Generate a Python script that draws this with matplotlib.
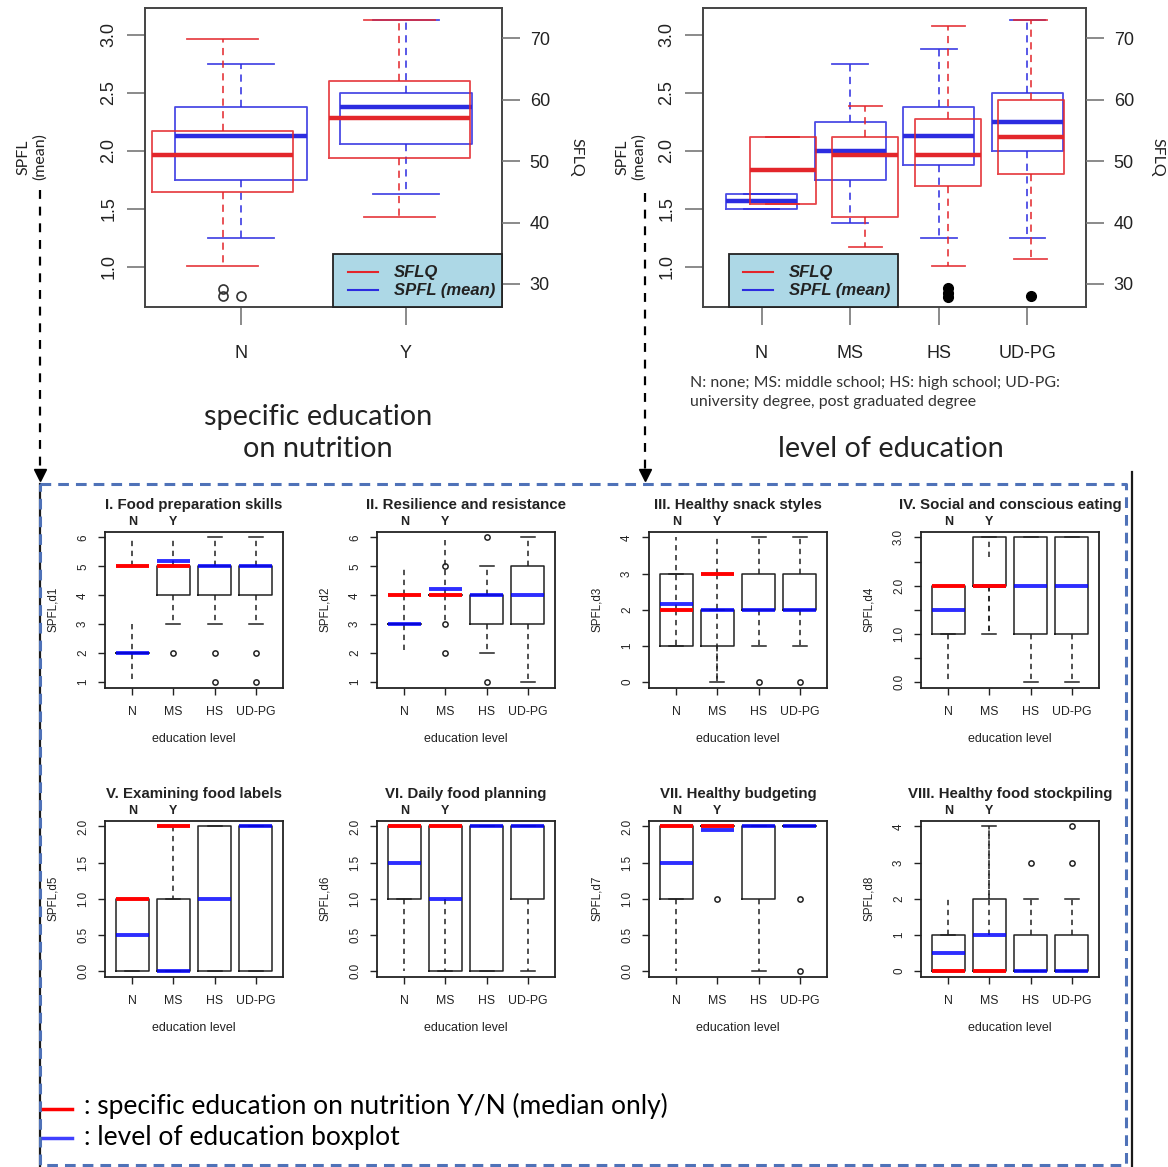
import matplotlib.pyplot as plt

W, H = 1168, 1167
RED = '#e3262b'
BLUE = '#2c2ce0'
SRED = '#ff0000'
SBLUE = '#0000ff'
INK = '#222222'
R_FONT = 'Liberation Sans'
DOC_FONT = 'Lato'

# ---- top panels (SPFL mean = blue, left axis; SFLQ = red, right axis)
# box stats: (whisker low, q1, median, q3, whisker high)
spec_groups = ['N', 'Y']
spec_spfl = [(1.25, 1.75, 2.125, 2.375, 2.75), (1.625, 2.0625, 2.375, 2.5, 3.125)]
spec_spfl_out = [[0.75], []]
spec_sflq = [(33.0, 44.9, 50.95, 54.9, 69.9), (40.9, 50.5, 56.95, 63.0, 72.9)]
spec_sflq_out = [[29.2, 28.1], []]

edu_groups = ['N', 'MS', 'HS', 'UD-PG']
edu_spfl = [(1.5, 1.5, 1.5625, 1.625, 1.625), (1.375, 1.75, 2.0, 2.25, 2.75),
            (1.25, 1.875, 2.125, 2.375, 2.875), (1.25, 2.0, 2.25, 2.5, 3.125)]
edu_spfl_out = [[], [], [], []]
edu_sflq = [(43.0, 43.0, 48.5, 54.0, 54.0), (36.0, 40.9, 50.95, 54.0, 58.9),
            (33.0, 45.9, 50.95, 56.9, 72.0), (34.0, 47.9, 54.0, 59.9, 72.9)]
edu_sflq_out = [[], [], [29.3, 28.5, 27.9], [28.0]]

spfl_ticks = [1.0, 1.5, 2.0, 2.5, 3.0]
sflq_ticks = [30, 40, 50, 60, 70]

# ---- eight SPFL dimensions by education level
dim_titles = ['I. Food preparation skills', 'II. Resilience and resistance',
              'III. Healthy snack styles', 'IV. Social and conscious eating',
              'V. Examining food labels', 'VI. Daily food planning',
              'VII. Healthy budgeting', 'VIII. Healthy food stockpiling']
dim_ylabels = ['SPFL,d%d' % (i + 1) for i in range(8)]
dim_yticks = [[1, 2, 3, 4, 5, 6], [1, 2, 3, 4, 5, 6], [0, 1, 2, 3, 4],
              [0, 0.5, 1, 1.5, 2, 2.5, 3], [0, 0.5, 1, 1.5, 2], [0, 0.5, 1, 1.5, 2],
              [0, 0.5, 1, 1.5, 2], [0, 1, 2, 3, 4]]
dim_yticklabels = [['1', '2', '3', '4', '5', '6'], ['1', '2', '3', '4', '5', '6'],
                   ['0', '1', '2', '3', '4'],
                   ['0.0', '', '1.0', '', '2.0', '', '3.0'],
                   ['0.0', '0.5', '1.0', '1.5', '2.0'], ['0.0', '0.5', '1.0', '1.5', '2.0'],
                   ['0.0', '0.5', '1.0', '1.5', '2.0'], ['0', '1', '2', '3', '4']]
# level-of-education boxes: (whisker low, q1, q3, whisker high)
dim_box = [
    [(2, 2, 2, 2), (3, 4, 5, 5), (3, 4, 5, 6), (3, 4, 5, 6)],
    [(3, 3, 3, 3), (4, 4, 4, 4), (2, 3, 4, 5), (1, 3, 5, 6)],
    [(1, 1, 3, 3), (0, 1, 2, 2), (1, 2, 3, 4), (1, 2, 3, 4)],
    [(1, 1, 2, 2), (1, 2, 3, 3), (0, 1, 3, 3), (0, 1, 3, 3)],
    [(0, 0, 1, 1), (0, 0, 1, 1), (0, 0, 2, 2), (0, 0, 2, 2)],
    [(1, 1, 2, 2), (0, 0, 2, 2), (0, 0, 2, 2), (0, 1, 2, 2)],
    [(1, 1, 2, 2), (2, 2, 2, 2), (0, 1, 2, 2), (2, 2, 2, 2)],
    [(0, 0, 1, 1), (0, 0, 2, 4), (0, 0, 1, 2), (0, 0, 1, 2)],
]
dim_blue_med = [
    [2, 5.2, 5, 5], [3, 4.2, 4, 4], [2.15, 2, 2, 2], [1.5, 2, 2, 2],
    [0.5, 0, 1, 2], [1.5, 1, 2, 2], [1.5, 1.95, 2, 2], [0.5, 1, 0, 0],
]
dim_out = [
    [[], [2], [2, 1], [2, 1]],
    [[], [5, 3, 2], [6, 1], []],
    [[], [], [0], [0]],
    [[], [], [], []],
    [[], [], [], []],
    [[], [], [], []],
    [[], [1], [], [1, 0]],
    [[], [], [3], [3, 4]],
]
# specific education N / Y overlay: (whisker low, q1, median, q3, whisker high)
dim_red = [
    [(1, 3, 5, 5, 6), (4, 4, 5, 5, 6)],
    [(2, 4, 4, 4, 5), (3, 4, 4, 4, 6)],
    [(1, 2, 2, 2, 4), (0, 3, 3, 3, 4)],
    [(0, 1, 2, 2, 2), (1, 2, 2, 2.6, 3)],
    [(1, 1, 1, 1, 1), (1, 2, 2, 2, 2)],
    [(0, 1, 2, 2, 2), (0, 1, 2, 2, 2)],
    [(0, 1, 2, 2, 2), (2, 2, 2, 2, 2)],
    [(0, 0, 0, 1, 2), (0, 0, 0, 1, 4)],
]


def px_axes(fig, left, top, right, bottom):
    return fig.add_axes([left / W, 1 - bottom / H, (right - left) / W, (bottom - top) / H])


def draw_top_boxes(ax, stats, outs, color, filled):
    for i, (lo, q1, med, q3, hi) in enumerate(stats):
        x = i + 1
        ax.plot([x - 0.4, x + 0.4, x + 0.4, x - 0.4, x - 0.4], [q1, q1, q3, q3, q1],
                color=color, lw=1.3, alpha=0.85)
        ax.plot([x, x], [q1, lo], color=color, lw=1.3, ls=(0, (4, 3)), alpha=0.85)
        ax.plot([x, x], [q3, hi], color=color, lw=1.3, ls=(0, (4, 3)), alpha=0.85)
        for v in (lo, hi):
            ax.plot([x - 0.2, x + 0.2], [v, v], color=color, lw=1.3, alpha=0.85)
        ax.plot([x - 0.4, x + 0.4], [med, med], color=color, lw=3.2, solid_capstyle='butt')
        if outs[i]:
            if filled:
                ax.plot([x] * len(outs[i]), outs[i], 'o', color='black', ms=7)
            else:
                ax.plot([x] * len(outs[i]), outs[i], 'o', mfc='none', mec='#333333',
                        ms=6.5, mew=1.2)


def top_panel(fig, rect, groups, spfl, spfl_out, sflq, sflq_out, red_xlim, legend_x, filled):
    ax = px_axes(fig, *rect)
    n = len(groups)
    draw_top_boxes(ax, spfl, spfl_out, BLUE, filled)
    ax.set_xlim(0.5 - 0.04 * n, n + 0.5 + 0.04 * n)
    ax.set_ylim(0.649, 3.23)
    ax.set_xticks(range(1, n + 1))
    ax.set_xticklabels(groups, fontsize=13, family=R_FONT, color=INK)
    ax.set_yticks(spfl_ticks)
    ax.set_yticklabels(['%.1f' % t for t in spfl_ticks], rotation=90, va='center',
                       fontsize=13, family=R_FONT, color=INK)
    ax.tick_params(axis='y', length=13, pad=7, color='#777777', width=1.2)
    ax.tick_params(axis='x', length=13, pad=14, color='#777777', width=1.2)
    for s in ax.spines.values():
        s.set_color('#444444')
        s.set_linewidth(1.4)

    axr = px_axes(fig, *rect)
    axr.patch.set_visible(False)
    for s in axr.spines.values():
        s.set_visible(False)
    draw_top_boxes(axr, sflq, sflq_out, RED, filled)
    axr.set_xlim(*red_xlim)
    axr.set_ylim(26.2, 74.88)
    axr.set_xticks([])
    axr.yaxis.tick_right()
    axr.set_yticks(sflq_ticks)
    axr.set_yticklabels([str(t) for t in sflq_ticks], fontsize=13, family=R_FONT, color=INK)
    axr.tick_params(axis='y', length=13, pad=7, color='#777777', width=1.2)

    # legend box
    x0, x1, xl0, xl1, xt = legend_x
    axr.add_patch(plt.Rectangle((x0, 0), x1 - x0, 0.177, transform=axr.transAxes,
                                facecolor='#add8e6', edgecolor='#222222', lw=1.3,
                                zorder=5, clip_on=False))
    for yy, col, lab in [(0.118, RED, 'SFLQ'), (0.057, BLUE, 'SPFL (mean)')]:
        axr.plot([xl0, xl1], [yy, yy], color=col, lw=1.5, transform=axr.transAxes,
                 zorder=6, clip_on=False)
        axr.text(xt, yy, lab, transform=axr.transAxes, fontsize=12, family=R_FONT,
                 fontweight='bold', style='italic', va='center', color=INK, zorder=6)
    return ax


def small_panel(fig, rect, k):
    ax = px_axes(fig, *rect)
    lw_ink = 1.1
    dash = (0, (3.5, 3))
    for i in range(4):
        x = i + 1
        lo, q1, q3, hi = dim_box[k][i]
        ax.plot([x - 0.4, x + 0.4, x + 0.4, x - 0.4, x - 0.4], [q1, q1, q3, q3, q1],
                color=INK, lw=lw_ink)
        if lo < q1:
            ax.plot([x, x], [q1, lo], color=INK, lw=lw_ink, ls=dash)
        if hi > q3:
            ax.plot([x, x], [q3, hi], color=INK, lw=lw_ink, ls=dash)
        for v in (lo, hi):
            ax.plot([x - 0.17, x + 0.17], [v, v], color=INK, lw=lw_ink)
        if dim_out[k][i]:
            ax.plot([x] * len(dim_out[k][i]), dim_out[k][i], 'o', mfc='none', mec=INK,
                    ms=3.8, mew=1.1)
    for i in range(2):
        lo, q1, med, q3, hi = dim_red[k][i]
        x = i + 1
        if lo < q1:
            ax.plot([x, x], [q1, lo], color=INK, lw=lw_ink, ls=dash)
        if hi > q3:
            ax.plot([x, x], [q3, hi], color=INK, lw=lw_ink, ls=dash)
    for i in range(4):
        x = i + 1
        ax.plot([x - 0.4, x + 0.4], [dim_blue_med[k][i]] * 2, color=SBLUE, lw=2.8,
                alpha=0.82, solid_capstyle='butt')
    for i in range(2):
        x = i + 1
        ax.plot([x - 0.4, x + 0.4], [dim_red[k][i][2]] * 2, color=SRED, lw=2.8,
                solid_capstyle='butt')

    ticks = dim_yticks[k]
    span = ticks[-1] - ticks[0]
    ax.set_ylim(ticks[0] - 0.04 * span, ticks[-1] + 0.04 * span)
    ax.set_xlim(0.34, 4.66)
    ax.set_yticks(ticks)
    ax.set_yticklabels(dim_yticklabels[k], rotation=90, va='center', fontsize=8.4,
                       family=R_FONT, color=INK)
    ax.set_xticks(range(1, 5))
    ax.set_xticklabels(edu_groups, fontsize=8.8, family=R_FONT, color=INK)
    ax.tick_params(axis='both', length=5, width=1.0, color=INK)
    ax.tick_params(axis='x', pad=8)
    ax.tick_params(axis='y', pad=6.5)
    for s in ax.spines.values():
        s.set_color(INK)
        s.set_linewidth(1.3)
    ax.set_ylabel(dim_ylabels[k], fontsize=8.4, family=R_FONT, color=INK, labelpad=13)
    ax.set_title(dim_titles[k], fontsize=10.8, family=R_FONT, fontweight='bold',
                 color=INK, pad=16.5)
    for i, g in enumerate(spec_groups):
        ax.text(i + 1, 1.0 + 10 / 156, g, transform=ax.get_xaxis_transform(),
                ha='center', va='center', fontsize=9, family=R_FONT,
                fontweight='bold', color=INK)
    ax.text(0.5, -51 / 156, 'education level', transform=ax.transAxes, ha='center',
            va='center', fontsize=9, family=R_FONT, color=INK)
    return ax


fig = plt.figure(figsize=(W / 100, H / 100), dpi=100)

# overlay in pixel coordinates for annotations
ov = fig.add_axes([0, 0, 1, 1])
ov.set_xlim(0, W)
ov.set_ylim(H, 0)
ov.axis('off')

top_panel(fig, (145, 8.3, 502, 307.3), spec_groups, spec_spfl, spec_spfl_out,
          spec_sflq, spec_sflq_out, (0.5596, 2.581), (0.527, 1.0, 0.569, 0.653, 0.697),
          filled=False)
top_panel(fig, (703, 8.3, 1086, 307.3), edu_groups, edu_spfl, edu_spfl_out,
          edu_sflq, edu_sflq_out, (0.0378, 4.667), (0.068, 0.508, 0.104, 0.183, 0.225),
          filled=True)

lefts = [105, 377, 649, 921]
tops = [531.7, 820.7]
for k in range(8):
    l = lefts[k % 4]
    t = tops[k // 4]
    small_panel(fig, (l, t, l + 178, t + 156), k)

# axis labels of the top panels
for xl, xr in [(32, 576), (631, 1157)]:
    ov.text(xl, 157, 'SPFL\n(mean)', rotation=90, ha='center', va='center',
            fontsize=11.5, family=DOC_FONT, color=INK, linespacing=1.2)
    ov.text(xr, 157, 'SFLQ', rotation=270, ha='center', va='center',
            fontsize=11.5, family=DOC_FONT, color=INK)

ov.text(318, 433, 'specific education\non nutrition', ha='center', va='center',
        fontsize=20.8, family=DOC_FONT, color=INK, linespacing=1.25)
ov.text(891, 449, 'level of education', ha='center', va='center',
        fontsize=20.8, family=DOC_FONT, color=INK)
ov.text(690, 392.5, 'N: none; MS: middle school; HS: high school; UD-PG:\n'
        'university degree, post graduated degree', ha='left', va='center',
        fontsize=11.4, family=DOC_FONT, color='#333333', linespacing=1.45)

# dashed arrows down to the dimension panels
for xa, ya in [(40, 190), (645, 193)]:
    ov.plot([xa, xa], [ya, 470], color='black', lw=1.6, ls=(0, (4, 3.5)))
    ov.plot([xa], [475], marker='v', color='black', ms=9)

# framed area of the dimension panels
ov.plot([40, 40], [484, H], color='#1a1a1a', lw=1.6)
ov.plot([1132, 1132], [472, H], color='#1a1a1a', lw=1.6)
ov.plot([40, 1126, 1126, 40, 40], [484, 484, 1165, 1165, 484], color='#4f72b8',
        lw=2.2, ls=(0, (3.5, 2.3)))

# bottom legend
ov.plot([43, 72], [1109, 1109], color=SRED, lw=2.5)
ov.plot([43, 72], [1138, 1138], color=SBLUE, lw=2.5, alpha=0.75)
ov.text(84, 1106, ': specific education on nutrition Y/N (median only)', ha='left',
        va='center', fontsize=19, family=DOC_FONT, color='black')
ov.text(84, 1137, ': level of education boxplot', ha='left', va='center',
        fontsize=19, family=DOC_FONT, color='black')

fig.savefig('out.png', dpi=100)
